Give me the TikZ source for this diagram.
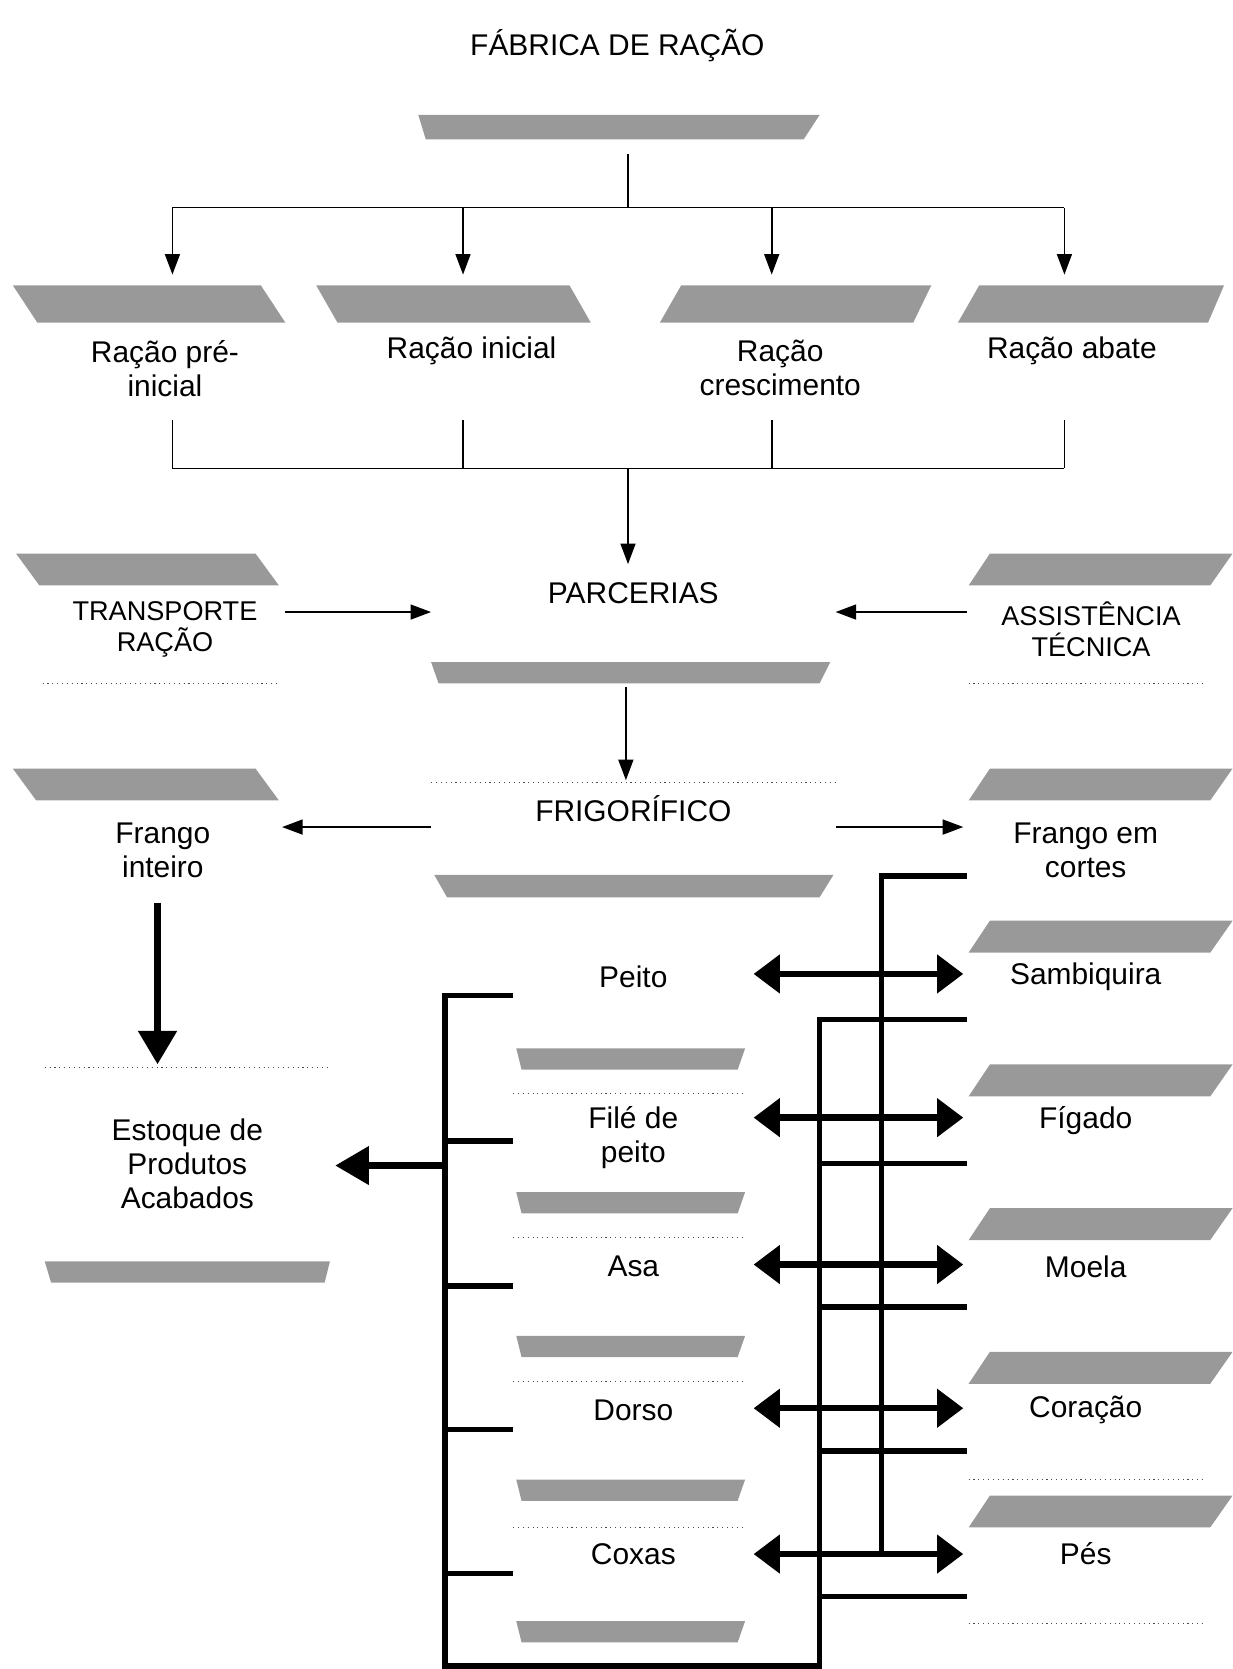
\documentclass[tikz,border=0pt]{standalone}
\usepackage{fontspec}
\setmainfont{Liberation Sans}
\usetikzlibrary{arrows.meta}
\begin{document}
\begin{tikzpicture}[x=0.02cm,y=-0.02cm,
  lbl/.style={font=\fontsize{16}{18.2}\selectfont, align=center, inner sep=0pt},
  smalllbl/.style={lbl, font=\fontsize{14.5}{16.5}\selectfont},
  halftone/.style={fill=black!40, draw=none},
  dotrule/.style={dotted, line width=0.6pt, black!70},
  fineline/.style={line width=0.9pt},
  arrowthin/.style={fineline, -{Triangle[length=11pt,width=8pt]}},
  bus/.style={line width=2.9pt},
  dblarrow/.style={line width=3.4pt, {Triangle[length=14pt,width=20pt]}-{Triangle[length=14pt,width=20pt]}},
  fatarrow/.style={line width=4pt, -{Triangle[length=18pt,width=20pt]}}]

\useasboundingbox (0,0) rectangle (1158,1568);

% ---- shaded bands giving the boxes their 3D look ----
% bands under the central boxes
\fill[halftone] (393,108) -- (770,108) -- (755,131) -- (400,131) -- cycle;
\fill[halftone] (405,622) -- (780,622) -- (770,642) -- (412,642) -- cycle;
\fill[halftone] (408,822) -- (783,822) -- (770,843) -- (420,843) -- cycle;
\fill[halftone] (42,1185) -- (310,1185) -- (305,1205) -- (48,1205) -- cycle;
\foreach \y in {985,1120,1255,1390,1523}
  \fill[halftone] (485,\y) -- (700,\y) -- (693,\y+20) -- (490,\y+20) -- cycle;
% bands on top of the left-hand boxes
\fill[halftone] (12,268) -- (245,268) -- (268,303) -- (35,303) -- cycle;
\fill[halftone] (297,268) -- (535,268) -- (555,303) -- (317,303) -- cycle;
\fill[halftone] (15,520) -- (240,520) -- (262,550) -- (37,550) -- cycle;
\fill[halftone] (12,722) -- (240,722) -- (262,752) -- (34,752) -- cycle;
% bands on top of the right-hand boxes
\fill[halftone] (640,268) -- (875,268) -- (858,303) -- (620,303) -- cycle;
\fill[halftone] (920,268) -- (1150,268) -- (1135,303) -- (900,303) -- cycle;
\fill[halftone] (930,520) -- (1158,520) -- (1137,550) -- (910,550) -- cycle;
\fill[halftone] (930,722) -- (1158,722) -- (1137,752) -- (910,752) -- cycle;
\foreach \y in {865,1000,1135,1270,1405}
  \fill[halftone] (930,\y) -- (1158,\y) -- (1137,\y+30) -- (910,\y+30) -- cycle;

% ---- dotted box edges ----
\draw[dotrule] (40,642) -- (262,642);
\draw[dotrule] (910,642) -- (1130,642);
\draw[dotrule] (405,735) -- (785,735);
\draw[dotrule] (42,1003) -- (310,1003);
\foreach \y in {1027,1163,1298,1435}
  \draw[dotrule] (482,\y) -- (700,\y);
\draw[dotrule] (910,1390) -- (1130,1390);
\draw[dotrule] (910,1525) -- (1130,1525);

% ---- labels ----
\node[lbl] (fab) at (580,43) {FÁBRICA DE RAÇÃO};
\node[lbl] (r1) at (155,346) {Ração pré-\\inicial};
\node[lbl] (r2) at (443,330) {Ração inicial};
\node[lbl] (r3) at (733,346) {Ração\\crescimento};
\node[lbl] (r4) at (1007,330) {Ração abate};
\node[lbl] (parc) at (595,557) {PARCERIAS};
\node[smalllbl] (transp) at (155,591) {TRANSPORTE\\RAÇÃO};
\node[smalllbl] (assist) at (1025,591) {ASSISTÊNCIA\\TÉCNICA};
\node[lbl] (frig) at (595,760) {FRIGORÍFICO};
\node[lbl] (inteiro) at (153,799) {Frango\\inteiro};
\node[lbl] (cortes) at (1020,799) {Frango em\\cortes};
\node[lbl] (estoque) at (176,1093) {Estoque de\\Produtos\\Acabados};
\node[lbl] (peito) at (595,918) {Peito};
\node[lbl] (file) at (595,1069) {Filé de\\peito};
\node[lbl] (asa) at (595,1190) {Asa};
\node[lbl] (dorso) at (595,1325) {Dorso};
\node[lbl] (coxas) at (595,1460) {Coxas};
\node[lbl] (samb) at (1020,918) {Sambiquira};
\node[lbl] (figado) at (1020,1053) {Fígado};
\node[lbl] (moela) at (1020,1190) {Moela};
\node[lbl] (coracao) at (1020,1325) {Coração};
\node[lbl] (pes) at (1020,1460) {Pés};

% ---- feed distribution ----
\coordinate (fabOut) at (590,145);
\coordinate (split) at (590,195);
\foreach \n/\x in {1/162,2/435,3/725,4/1000}{
  \coordinate (a\n) at (\x,195);
  \coordinate (in\n) at (\x,258);
  \coordinate (out\n) at (\x,395);
  \coordinate (m\n) at (\x,440);
}
\draw[fineline] (fabOut) -- (split);
\draw[fineline] (a1) -- (a4);
\foreach \n in {1,...,4}{
  \draw[arrowthin] (a\n) -- (in\n);
  \draw[fineline] (out\n) -- (m\n);
}
\draw[fineline] (m1) -- (m4);
\coordinate (merge) at (590,440);
\coordinate (parcIn) at (590,530);
\draw[arrowthin] (merge) -- (parcIn);

% ---- inputs to the partnerships ----
\coordinate (transpOut) at (268,575);
\coordinate (parcW) at (405,575);
\coordinate (assistOut) at (908,575);
\coordinate (parcE) at (785,575);
\draw[arrowthin] (transpOut) -- (parcW);
\draw[arrowthin] (assistOut) -- (parcE);

% ---- slaughterhouse ----
\coordinate (parcOut) at (588,645);
\coordinate (frigIn) at (588,733);
\draw[arrowthin] (parcOut) -- (frigIn);
\coordinate (frigW) at (405,777);
\coordinate (inteiroIn) at (265,777);
\coordinate (frigE) at (785,777);
\coordinate (cortesIn) at (905,777);
\draw[arrowthin] (frigW) -- (inteiroIn);
\draw[arrowthin] (frigE) -- (cortesIn);

% ---- whole chicken to stock ----
\coordinate (inteiroOut) at (148,848);
\coordinate (estoqueIn) at (148,1000);
\draw[fatarrow] (inteiroOut) -- (estoqueIn);

% ---- collecting bus of the cuts ----
\coordinate (busTop) at (418,935);
\coordinate (busBot) at (418,1565);
\coordinate (busBotR) at (770,1565);
\coordinate (busR) at (770,958);
\draw[bus] (482,935) -- (busTop) -- (busBot) -- (busBotR) -- (busR) -- (908,958);
\foreach \y in {1072,1208,1343,1478}
  \draw[bus] (418,\y) -- (482,\y);
\foreach \y in {1093,1228,1363,1500}
  \draw[bus] (770,\y) -- (908,\y);
\coordinate (busOut) at (418,1095);
\coordinate (estoqueE) at (315,1095);
\draw[fatarrow, line width=3.4pt] (busOut) -- (estoqueE);

% ---- feed line from the cut chicken ----
\coordinate (cortesOut) at (908,823);
\coordinate (feedTop) at (828,823);
\coordinate (feedBot) at (828,1460);
\draw[bus] (cortesOut) -- (feedTop) -- (feedBot);

% ---- two-way links between cuts and giblets ----
\foreach \y in {915,1050,1188,1323,1460}
  \draw[dblarrow] (708,\y) -- (905,\y);

\end{tikzpicture}
\end{document}
